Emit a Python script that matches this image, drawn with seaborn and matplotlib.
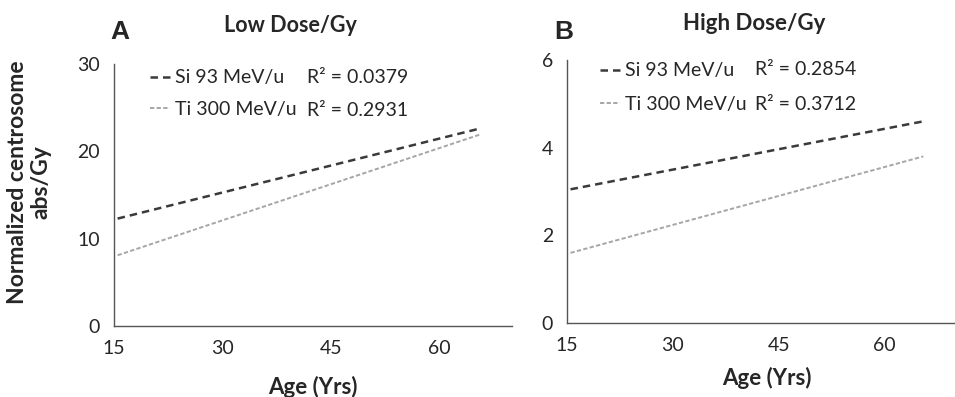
import numpy as np
import pandas as pd
import seaborn as sns
import matplotlib.pyplot as plt

sns.set_style("white")
plt.rcParams['font.family'] = ['Lato', 'DejaVu Sans']

# Trend-line end points
age = [15.5, 65.5]
series = ['Si 93 MeV/u', 'Ti 300 MeV/u']

low_si = [12.3, 22.6]
low_ti = [8.1, 21.9]
high_si = [3.05, 4.6]
high_ti = [1.6, 3.8]

low_r2 = ['R² = 0.0379', 'R² = 0.2931']
high_r2 = ['R² = 0.2854', 'R² = 0.3712']

x_ticks = [15, 30, 45, 60]

def make_df(si, ti):
    return pd.DataFrame({
        'Age': age + age,
        'Value': si + ti,
        'Series': [series[0]] * 2 + [series[1]] * 2,
    })

colors = {series[0]: '#3a3a3a', series[1]: '#a6a6a6'}
dashes = {series[0]: (3.0, 2.0), series[1]: (2.2, 1.2)}
widths = {series[0]: 1.8, series[1]: 1.4}

W, H = 955, 397
fig = plt.figure(figsize=(9.55, 3.97), dpi=100)
ax0 = fig.add_axes([114 / W, 1 - 326 / H, 398 / W, 262 / H])
ax1 = fig.add_axes([567 / W, 1 - 323 / H, 388 / W, 263 / H])

# axes, data, ticks, title, letter, age label, legend rows
panels = [
    (ax0, low_si, low_ti, low_r2, [0, 10, 20, 30], 30,
     ('Low Dose/Gy', 290, 26, 15.5), ('A', 110, 32), (313, 387),
     (0.950, 0.824), 0.09, 0.74),
    (ax1, high_si, high_ti, high_r2, [0, 2, 4, 6], 6,
     ('High Dose/Gy', 754, 24, 16), ('B', 554, 32), (767, 378),
     (0.962, 0.829), 0.085, 0.84),
]

for (ax, si, ti, r2, yt, ymax, title, letter, agelab,
     rows, leg_x, spacing) in panels:
    df = make_df(si, ti)
    for s in series:
        sub = df[df['Series'] == s]
        sns.lineplot(data=sub, x='Age', y='Value', ax=ax, color=colors[s],
                     lw=widths[s], label=s)
        ax.lines[-1].set_dashes(dashes[s])
    ax.set_xlim(15, 70)
    ax.set_ylim(0, ymax)
    ax.set_xticks(x_ticks)
    ax.set_yticks(yt)
    ax.tick_params(length=0, labelsize=14, pad=10)
    for sp in ['top', 'right']:
        ax.spines[sp].set_visible(False)
    for sp in ['left', 'bottom']:
        ax.spines[sp].set_color('#555555')
        ax.spines[sp].set_linewidth(1.0)
    ax.set_xlabel('')
    ax.set_ylabel('')
    fig.text(agelab[0] / W, 1 - agelab[1] / H, 'Age (Yrs)',
             fontsize=16, fontweight='bold', ha='center', va='center')
    fig.text(title[1] / W, 1 - title[2] / H, title[0], fontsize=title[3],
             fontweight='bold', ha='center', va='center')
    fig.text(letter[1] / W, 1 - letter[2] / H, letter[0], fontsize=19,
             fontweight='bold', family=['Liberation Sans', 'DejaVu Sans'],
             ha='left', va='center')
    ax.legend(loc='center left', bbox_to_anchor=(leg_x, sum(rows) / 2),
              frameon=False, fontsize=14, handlelength=1.05,
              handletextpad=0.25, labelspacing=spacing, borderpad=0,
              borderaxespad=0)
    for t, y in zip(r2, rows):
        ax.text(0.485, y, t, transform=ax.transAxes,
                fontsize=14, va='center', ha='left')

fig.text(29 / W, 1 - 182 / H, 'Normalized centrosome\nabs/Gy', fontsize=16.5,
         fontweight='bold', rotation=90, ha='center', va='center',
         linespacing=1.15)

fig.savefig('out.png', dpi=100)
